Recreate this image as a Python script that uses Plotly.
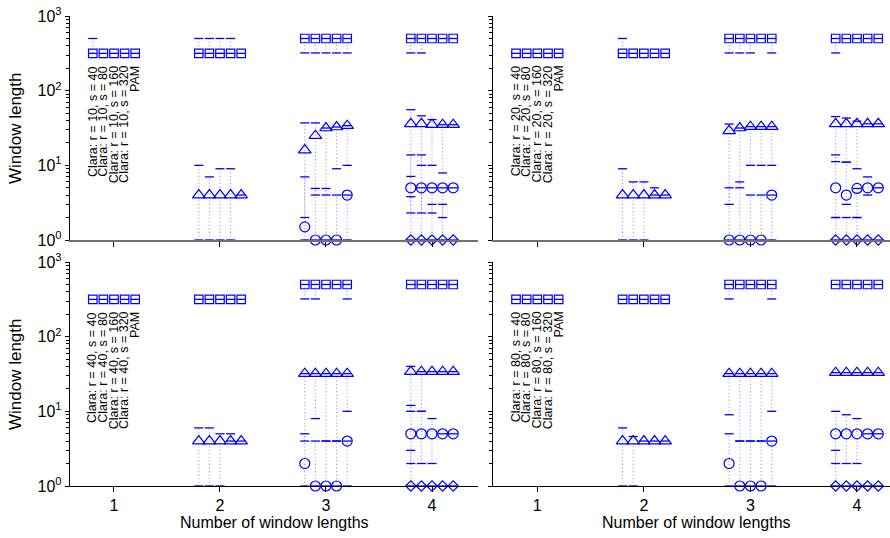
import plotly.graph_objects as go

# ---------------- data ----------------
R_VALUES = [10, 20, 40, 80]
S_VALUES = [40, 80, 160, 320]
GROUPS = [1, 2, 3, 4]
X_TITLE = "Number of window lengths"
Y_TITLE = "Window length"
Y_TICKS = [1, 10, 100, 1000]
Y_TICKTEXT = ["10<sup>0</sup>", "10<sup>1</sup>", "10<sup>2</sup>", "10<sup>3</sup>"]

# MED[g][s] = medians of the sorted window lengths (largest first), LO / HI = range ends
MED_R10 = [
    [[316], [316], [316], [316], [316]],
    [[316, 4], [316, 4], [316, 4], [316, 4], [316, 4]],
    [[500, 16, 1.5], [500, 25, 1], [500, 31.6, 1], [500, 32.6, 1], [500, 34, 4]],
    [[500, 36, 5, 1], [500, 36, 5, 1], [500, 35, 5, 1], [500, 35, 5, 1], [500, 35, 5, 1]],
]
LO_R10 = [
    [[316], [316], [316], [316], [316]],
    [[316, 1], [316, 1], [316, 1], [316, 1], [316, 4]],
    [[320, 2, 1], [320, 4, 1], [320, 4, 1], [320, 9, 1], [320, 10, 1]],
    [[320, 7.1, 2.3, 1], [320, 10, 2.3, 1], [500, 10, 2.3, 1], [500, 7.9, 2, 1], [500, 35, 5, 1]],
]
HI_R10 = [
    [[500], [316], [316], [316], [316]],
    [[500, 10], [500, 7], [500, 9], [500, 9], [316, 4]],
    [[500, 37, 7], [500, 37, 4.9], [500, 31.6, 4.9], [500, 32.6, 4], [500, 34, 4]],
    [[500, 55.6, 13.8, 3.8], [500, 46, 13.8, 5], [500, 41, 5, 3], [500, 35, 5, 3], [500, 35, 5, 1]],
]

MED_R20 = [
    [[316], [316], [316], [316], [316]],
    [[316, 4], [316, 4], [316, 4], [316, 4], [316, 4]],
    [[500, 29, 1], [500, 31.6, 1], [500, 33, 1], [500, 33, 1], [500, 33, 4]],
    [[500, 36, 5, 1], [500, 36, 4, 1], [500, 36, 4.9, 1], [500, 36, 5, 1], [500, 36, 5, 1]],
]
LO_R20 = [
    [[316], [316], [316], [316], [316]],
    [[316, 1], [316, 1], [316, 1], [316, 4], [316, 4]],
    [[320, 3, 1], [320, 5, 1], [320, 10, 1], [500, 10, 1], [320, 10, 1]],
    [[320, 11.2, 2, 1], [500, 11, 3, 1], [500, 9, 2, 1], [500, 36, 4, 1], [500, 36, 5, 1]],
]
HI_R20 = [
    [[316], [316], [316], [316], [316]],
    [[500, 9], [316, 6], [316, 6], [316, 5], [316, 4]],
    [[500, 35.7, 5], [500, 31.6, 6], [500, 33, 4], [500, 33, 4], [500, 33, 4]],
    [[500, 45, 13.8, 2], [500, 43, 11, 2], [500, 39, 4.9, 2], [500, 36, 7, 1], [500, 36, 5, 1]],
]

MED_R40 = [
    [[316], [316], [316], [316], [316]],
    [[316, 4], [316, 4], [316, 4], [316, 4], [316, 4]],
    [[500, 32, 2], [500, 32, 1], [500, 32, 1], [500, 32, 1], [500, 32, 4]],
    [[500, 34, 5, 1], [500, 34, 5, 1], [500, 34, 5, 1], [500, 34, 5, 1], [500, 34, 5, 1]],
]
LO_R40 = [
    [[316], [316], [316], [316], [316]],
    [[316, 1], [316, 1], [316, 1], [316, 4], [316, 4]],
    [[320, 4, 1], [320, 8, 1], [500, 4, 1], [500, 4, 1], [320, 10, 1]],
    [[500, 10, 2, 1], [500, 10, 2, 1], [500, 34, 2, 1], [500, 34, 5, 1], [500, 34, 5, 1]],
]
HI_R40 = [
    [[316], [316], [316], [316], [316]],
    [[316, 6], [316, 6], [316, 5], [316, 5], [316, 4]],
    [[500, 32, 5], [500, 32, 4], [500, 32, 4], [500, 32, 4], [500, 32, 4]],
    [[500, 40, 12, 3], [500, 34, 10, 1], [500, 34, 8, 1], [500, 34, 5, 1], [500, 34, 5, 1]],
]

MED_R80 = [
    [[316], [316], [316], [316], [316]],
    [[316, 4], [316, 4], [316, 4], [316, 4], [316, 4]],
    [[500, 32, 2], [500, 32, 1], [500, 32, 1], [500, 32, 1], [500, 32, 4]],
    [[500, 33, 5, 1], [500, 33, 5, 1], [500, 33, 5, 1], [500, 33, 5, 1], [500, 33, 5, 1]],
]
LO_R80 = [
    [[316], [316], [316], [316], [316]],
    [[316, 1], [316, 1], [316, 4], [316, 4], [316, 4]],
    [[320, 9, 1], [500, 4, 1], [500, 4, 1], [500, 4, 1], [320, 10, 1]],
    [[500, 33, 2, 1], [500, 33, 2, 1], [500, 33, 2, 1], [500, 33, 5, 1], [500, 33, 5, 1]],
]
HI_R80 = [
    [[316], [316], [316], [316], [316]],
    [[316, 6], [316, 4.6], [316, 4], [316, 4], [316, 4]],
    [[500, 32, 5], [500, 32, 4], [500, 32, 4], [500, 32, 4], [500, 32, 4]],
    [[500, 33, 10, 3], [500, 33, 9, 1], [500, 33, 8, 1], [500, 33, 5, 1], [500, 33, 5, 1]],
]

PANELS = [
    (MED_R10, LO_R10, HI_R10),
    (MED_R20, LO_R20, HI_R20),
    (MED_R40, LO_R40, HI_R40),
    (MED_R80, LO_R80, HI_R80),
]

# ---------------- styling ----------------
BLUE = "#0000ff"
DOT_COLOR = "rgba(40,40,255,0.55)"
SERIES_OFFSET = [-0.2, -0.1, 0.0, 0.1, 0.2]
SYMBOLS = ["square-open", "triangle-up-open", "circle-open", "diamond-open"]
SIZES = [8.5, 11, 10, 8]
FONT = "Liberation Sans, Arial, Helvetica, sans-serif"

W, H = 890, 538
XDOM = [[70 / W, 478 / W], [493 / W, 1.0]]
YDOM = [[1 - 240 / H, 1 - 16 / H], [1 - 486 / H, 1 - 262 / H]]
XRANGE = [[0.585, 4.434], [0.584, 4.31]]
MINOR_VALS = [m * 10 ** e for e in range(3) for m in range(2, 10)]

fig = go.Figure()

for p, (MED, LO, HI) in enumerate(PANELS):
    suffix = "" if p == 0 else str(p + 1)
    xa, ya = "x" + suffix, "y" + suffix
    dx, dy = [], []
    tx, ty = [], []
    mk = {j: ([], []) for j in range(4)}
    for g, grp in enumerate(GROUPS):
        for s in range(5):
            x = grp + SERIES_OFFSET[s]
            for j in range(len(MED[g][s])):
                m, lo, hi = MED[g][s][j], LO[g][s][j], HI[g][s][j]
                mk[j][0].append(x)
                mk[j][1].append(m)
                if hi > lo:
                    dx += [x, x, None]
                    dy += [lo, hi, None]
                for v in sorted({lo, hi}):
                    tx.append(x)
                    ty.append(v)
    fig.add_trace(go.Scatter(x=dx, y=dy, mode="lines", xaxis=xa, yaxis=ya,
                             line=dict(color=DOT_COLOR, width=1, dash="1px,2.5px"),
                             hoverinfo="skip", cliponaxis=False))
    fig.add_trace(go.Scatter(x=tx, y=ty, mode="markers", xaxis=xa, yaxis=ya,
                             marker=dict(symbol="line-ew-open", size=6.5, color=BLUE,
                                         line=dict(color=BLUE, width=1.3)),
                             hoverinfo="skip", cliponaxis=False))
    for j in range(4):
        fig.add_trace(go.Scatter(x=mk[j][0], y=mk[j][1], mode="markers", xaxis=xa, yaxis=ya,
                                 marker=dict(symbol=SYMBOLS[j], size=SIZES[j], color=BLUE,
                                             line=dict(color=BLUE, width=1.2)),
                                 hoverinfo="skip", cliponaxis=False))

    row, col = p // 2, p % 2
    fig.layout["xaxis" + suffix] = dict(
        domain=XDOM[col], range=XRANGE[col], anchor=ya, automargin=False,
        tickmode="array", tickvals=GROUPS, ticktext=[str(g) for g in GROUPS],
        showticklabels=(row == 1), ticks="outside", ticklen=5, tickcolor="black",
        showline=True, linecolor=("#707070" if row == 0 else "black"),
        linewidth=(1.6 if row == 0 else 1.2),
        showgrid=False, zeroline=False, tickfont=dict(size=16, family=FONT, color="black"),
    )
    fig.layout["yaxis" + suffix] = dict(
        domain=YDOM[row], type="log", range=[0, 3], anchor=xa, automargin=False,
        tickmode="array", tickvals=Y_TICKS, ticktext=Y_TICKTEXT,
        showticklabels=(col == 0), ticks="outside", ticklen=4, tickcolor="black",
        minor=dict(tickmode="array", tickvals=MINOR_VALS, ticks="outside", ticklen=3,
                   tickcolor="black", showgrid=False),
        showline=True, linecolor="black", linewidth=1.2,
        showgrid=False, zeroline=False, tickfont=dict(size=16, family=FONT, color="black"),
    )

    labels = [f"Clara: r = {R_VALUES[p]}, s = {s}" for s in S_VALUES] + ["PAM"]
    for s, lab in enumerate(labels):
        fig.add_annotation(x=GROUPS[0] + SERIES_OFFSET[s], y=2.36, xref=xa, yref=ya,
                           text=lab, textangle=-90, showarrow=False,
                           xanchor="center", yanchor="top",
                           font=dict(size=12.5, family=FONT, color="black"))

for row in range(2):
    yc = (YDOM[row][0] + YDOM[row][1]) / 2
    fig.add_annotation(x=15 / W, y=yc, xref="paper", yref="paper", text=Y_TITLE,
                       textangle=-90, showarrow=False, xanchor="center", yanchor="middle",
                       font=dict(size=17, family=FONT, color="black"))
for xc in [274 / W, 696 / W]:
    fig.add_annotation(x=xc, y=1 - 522 / H, xref="paper", yref="paper", text=X_TITLE,
                       showarrow=False, xanchor="center", yanchor="middle",
                       font=dict(size=16, family=FONT, color="black"))

fig.update_layout(width=W, height=H, margin=dict(l=0, r=0, t=0, b=0, autoexpand=False),
                  paper_bgcolor="white", plot_bgcolor="white", showlegend=False,
                  font=dict(family=FONT, color="black"))

fig.write_html("out.html", config={"displayModeBar": False, "staticPlot": True},
               post_script="document.body.style.margin='0px';document.body.style.overflow='hidden';")
